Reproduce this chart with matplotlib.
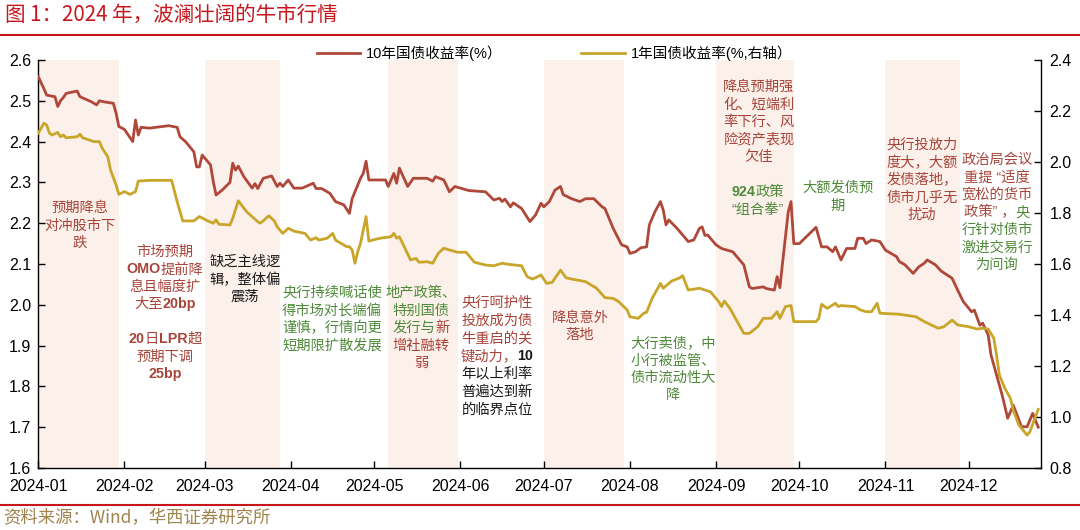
import matplotlib
matplotlib.use('Agg')
import matplotlib.pyplot as plt
import matplotlib.dates as mdates
from matplotlib.transforms import offset_copy
from matplotlib.lines import Line2D
import pandas as pd

plt.rcParams['font.family'] = ['Liberation Sans', 'Noto Sans CJK SC']

# 10年国债收益率(%) - 左轴
ten_dates = ['01-01', '01-03', '01-04', '01-07', '01-08', '01-09', '01-10', '01-11', '01-15', '01-16',
             '01-20', '01-22', '01-23', '01-25', '01-28', '01-29', '01-30', '02-01', '02-04', '02-05',
             '02-06', '02-07', '02-10', '02-17', '02-20', '02-21', '02-23', '02-26', '02-27', '02-28',
             '02-29', '03-03', '03-04', '03-05', '03-07', '03-10', '03-11', '03-12', '03-13', '03-15',
             '03-18', '03-19', '03-20', '03-22', '03-25', '03-27', '03-28', '03-29', '03-31', '04-02',
             '04-05', '04-09', '04-10', '04-12', '04-15', '04-17', '04-20', '04-22', '04-23', '04-24',
             '04-26', '04-27', '04-28', '04-29', '05-05', '05-06', '05-08', '05-09', '05-10', '05-13',
             '05-15', '05-20', '05-22', '05-23', '05-26', '05-28', '05-30', '06-04', '06-10', '06-13',
             '06-15', '06-16', '06-17', '06-19', '06-20', '06-23', '06-26', '06-28', '06-30', '07-01',
             '07-03', '07-05', '07-07', '07-08', '07-11', '07-14', '07-16', '07-19', '07-22', '07-23',
             '07-26', '07-29', '07-31', '08-01', '08-03', '08-05', '08-07', '08-08', '08-10', '08-12',
             '08-13', '08-14', '08-15', '08-18', '08-22', '08-24', '08-26', '08-27', '08-28', '08-29',
             '09-01', '09-03', '09-07', '09-09', '09-11', '09-13', '09-14', '09-18', '09-19', '09-22',
             '09-23', '09-24', '09-25', '09-27', '09-28', '09-29', '10-01', '10-07', '10-09', '10-11',
             '10-13', '10-14', '10-16', '10-18', '10-21', '10-22', '10-24', '10-25', '10-27', '10-30',
             '11-01', '11-04', '11-05', '11-06', '11-08', '11-11', '11-13', '11-15', '11-16', '11-19',
             '11-21', '11-25', '11-27', '11-29', '12-02', '12-03', '12-05', '12-06', '12-08', '12-09',
             '12-11', '12-13', '12-15', '12-17', '12-20', '12-22', '12-24', '12-26']
ten_vals = [2.559, 2.530, 2.514, 2.510, 2.486, 2.500, 2.508, 2.518, 2.524, 2.510,
            2.498, 2.490, 2.500, 2.497, 2.494, 2.470, 2.437, 2.430, 2.400, 2.453,
            2.416, 2.435, 2.433, 2.439, 2.435, 2.412, 2.400, 2.375, 2.338, 2.338,
            2.367, 2.343, 2.302, 2.269, 2.280, 2.300, 2.347, 2.330, 2.340, 2.314,
            2.286, 2.297, 2.285, 2.310, 2.316, 2.290, 2.298, 2.290, 2.306, 2.286,
            2.286, 2.298, 2.285, 2.285, 2.273, 2.253, 2.245, 2.224, 2.260, 2.277,
            2.310, 2.322, 2.352, 2.306, 2.306, 2.290, 2.322, 2.298, 2.335, 2.290,
            2.310, 2.310, 2.303, 2.314, 2.306, 2.277, 2.290, 2.280, 2.277, 2.257,
            2.261, 2.253, 2.259, 2.240, 2.250, 2.236, 2.204, 2.220, 2.249, 2.240,
            2.253, 2.281, 2.290, 2.270, 2.260, 2.253, 2.260, 2.260, 2.240, 2.236,
            2.187, 2.147, 2.142, 2.126, 2.130, 2.140, 2.142, 2.196, 2.228, 2.253,
            2.232, 2.196, 2.208, 2.187, 2.155, 2.159, 2.187, 2.191, 2.170, 2.171,
            2.147, 2.138, 2.130, 2.114, 2.098, 2.044, 2.040, 2.044, 2.040, 2.036,
            2.069, 2.042, 2.106, 2.228, 2.253, 2.150, 2.150, 2.190, 2.142, 2.142,
            2.130, 2.142, 2.110, 2.138, 2.138, 2.163, 2.163, 2.150, 2.159, 2.155,
            2.134, 2.122, 2.118, 2.106, 2.098, 2.077, 2.093, 2.102, 2.110, 2.098,
            2.083, 2.065, 2.036, 2.008, 1.983, 1.987, 1.950, 1.955, 1.926, 1.877,
            1.828, 1.779, 1.722, 1.754, 1.701, 1.701, 1.734, 1.700]

# 1年国债收益率(%) - 右轴
one_dates = ['01-01', '01-03', '01-04', '01-05', '01-06', '01-08', '01-09', '01-10', '01-11', '01-15',
             '01-16', '01-17', '01-21', '01-23', '01-24', '01-26', '01-27', '01-29', '01-30', '02-01',
             '02-03', '02-05', '02-06', '02-10', '02-18', '02-20', '02-22', '02-26', '02-28', '03-02',
             '03-04', '03-05', '03-06', '03-10', '03-11', '03-13', '03-16', '03-20', '03-21', '03-24',
             '03-26', '03-27', '03-29', '03-31', '04-02', '04-06', '04-08', '04-10', '04-11', '04-14',
             '04-16', '04-17', '04-21', '04-22', '04-23', '04-24', '04-25', '04-26', '04-28', '04-29',
             '05-03', '05-07', '05-08', '05-09', '05-10', '05-12', '05-14', '05-16', '05-17', '05-20',
             '05-22', '05-24', '05-26', '05-28', '05-31', '06-03', '06-06', '06-10', '06-13', '06-16',
             '06-18', '06-23', '06-25', '06-27', '06-28', '06-30', '07-02', '07-04', '07-07', '07-09',
             '07-11', '07-16', '07-20', '07-23', '07-26', '07-28', '07-31', '08-01', '08-04', '08-06',
             '08-07', '08-09', '08-12', '08-13', '08-16', '08-19', '08-20', '08-22', '08-26', '08-30',
             '09-02', '09-03', '09-04', '09-06', '09-08', '09-11', '09-13', '09-16', '09-18', '09-21',
             '09-23', '09-24', '09-26', '09-28', '09-29', '10-07', '10-08', '10-09', '10-11', '10-14',
             '10-15', '10-16', '10-21', '10-23', '10-25', '10-27', '10-29', '10-30', '11-06', '11-12',
             '11-15', '11-20', '11-22', '11-25', '11-27', '12-01', '12-04', '12-06', '12-08', '12-10',
             '12-11', '12-12', '12-14', '12-16', '12-17', '12-19', '12-21', '12-22', '12-23', '12-26']
one_vals = [2.113, 2.152, 2.145, 2.113, 2.106, 2.116, 2.099, 2.106, 2.095, 2.099,
            2.109, 2.095, 2.080, 2.080, 2.054, 2.021, 1.969, 1.910, 1.873, 1.884,
            1.873, 1.884, 1.925, 1.928, 1.928, 1.844, 1.769, 1.769, 1.786, 1.769,
            1.760, 1.773, 1.756, 1.753, 1.779, 1.848, 1.805, 1.766, 1.760, 1.789,
            1.769, 1.746, 1.720, 1.740, 1.729, 1.720, 1.694, 1.703, 1.694, 1.701,
            1.720, 1.694, 1.668, 1.668, 1.655, 1.603, 1.648, 1.681, 1.786, 1.690,
            1.701, 1.707, 1.720, 1.701, 1.707, 1.662, 1.616, 1.622, 1.607, 1.609,
            1.603, 1.642, 1.662, 1.655, 1.646, 1.646, 1.607, 1.596, 1.593, 1.603,
            1.599, 1.593, 1.550, 1.541, 1.546, 1.557, 1.524, 1.528, 1.576, 1.546,
            1.541, 1.531, 1.505, 1.468, 1.465, 1.452, 1.420, 1.393, 1.387, 1.407,
            1.411, 1.465, 1.524, 1.505, 1.533, 1.546, 1.554, 1.498, 1.505, 1.491,
            1.452, 1.433, 1.455, 1.426, 1.387, 1.328, 1.328, 1.354, 1.387, 1.387,
            1.413, 1.387, 1.433, 1.437, 1.374, 1.374, 1.387, 1.442, 1.426, 1.446,
            1.433, 1.437, 1.433, 1.420, 1.413, 1.413, 1.446, 1.407, 1.403, 1.393,
            1.374, 1.348, 1.354, 1.380, 1.361, 1.354, 1.345, 1.348, 1.345, 1.309,
            1.243, 1.165, 1.112, 1.073, 1.027, 0.969, 0.942, 0.929, 0.942, 1.030]

# 阴影区间
shade_start = ['01-01', '03-01', '05-06', '07-01', '09-01', '11-01']
shade_end = ['01-30', '03-28', '05-31', '07-30', '09-29', '11-28']

RED = '#b0483a'
YEL = '#c9a52a'
R, G, K = '#a8453a', '#4f8a3a', '#1a1a1a'


def to_dt(lst):
    return pd.to_datetime(['2024-' + s for s in lst])


W, H = 1080, 530
fig = plt.figure(figsize=(W / 100, H / 100), dpi=100)


def fx(px):
    return px / W


def fy(py):
    return 1 - py / H


ax = fig.add_axes([fx(38.3), fy(468), fx(1041) - fx(38.3), fy(60) - fy(468)])
ax2 = ax.twinx()

for a, b in zip(to_dt(shade_start), to_dt(shade_end)):
    ax.axvspan(a, b, color='#fcf0ea', lw=0, zorder=0)

l1, = ax.plot(to_dt(ten_dates), ten_vals, color=RED, lw=2.0, zorder=3)
l2, = ax2.plot(to_dt(one_dates), one_vals, color=YEL, lw=2.0, zorder=3)

ax.set_xlim(pd.Timestamp('2024-01-01'), pd.Timestamp('2024-12-27'))
ax.set_ylim(1.6, 2.6)
ax2.set_ylim(0.8, 2.4)
ax.set_yticks([1.6 + 0.1 * i for i in range(11)])
ax2.set_yticks([0.8 + 0.2 * i for i in range(9)])
ax.yaxis.set_major_formatter(plt.FormatStrFormatter('%.1f'))
ax2.yaxis.set_major_formatter(plt.FormatStrFormatter('%.1f'))
ax.xaxis.set_major_locator(mdates.MonthLocator())
ax.xaxis.set_major_formatter(mdates.DateFormatter('%Y-%m'))

ax.tick_params(axis='y', direction='in', length=5, width=1, labelsize=11.5, pad=5)
ax.tick_params(axis='x', direction='in', length=5, width=1, labelsize=11.5, pad=8)
ax2.tick_params(axis='y', direction='in', length=5, width=1, labelsize=11.5, pad=6)
for s in ['top', 'right']:
    ax.spines[s].set_visible(False)
for s in ['top', 'left', 'bottom']:
    ax2.spines[s].set_visible(False)
ax.spines['left'].set_linewidth(1)
ax.spines['bottom'].set_linewidth(1)
ax2.spines['right'].set_linewidth(1)
ax.set_facecolor('none')

fig.legend([l1, l2], ['10年国债收益率(%）', '1年国债收益率(%,右轴）'], loc='center',
           bbox_to_anchor=(fx(554.5), fy(53)), ncol=2, frameon=False, fontsize=10.5,
           handlelength=3.0, handletextpad=0.4, columnspacing=5.4)

# 标题与来源
fig.text(fx(5), fy(15), '图 1：2024 年，波澜壮阔的牛市行情', color='#c8161d', fontsize=14.8,
         va='center', ha='left', family=['Noto Sans CJK SC'])
fig.add_artist(Line2D([0, 1], [fy(35), fy(35)], transform=fig.transFigure, color='#c8161d', lw=1.5))
fig.add_artist(Line2D([0, 1], [fy(505), fy(505)], transform=fig.transFigure, color='#c8161d', lw=1.5))
fig.text(fx(3), fy(518), '资料来源：Wind，华西证券研究所', color='#a0824c', fontsize=12.5,
         va='center', ha='left', family=['Noto Sans CJK SC'])

renderer = fig.canvas.get_renderer()


def note(cx, top, lines, step=17.5, size=10.3):
    for i, segs in enumerate(lines):
        y = fy(top + i * step)
        texts = []
        for seg in segs:
            bold = len(seg) > 2
            t = fig.text(fx(cx), y, seg[0], color=seg[1], fontsize=size, va='center', ha='left',
                         fontweight='bold' if bold else 'normal')
            texts.append(t)
        widths = [t.get_window_extent(renderer).width for t in texts]
        off = -sum(widths) / 2
        for t, w in zip(texts, widths):
            t.set_transform(offset_copy(fig.transFigure, fig, x=off, y=0, units='dots'))
            off += w


def plain(lines, c):
    return [[(s, c)] for s in lines]


note(80, 208, plain(['预期降息', '对冲股市下', '跌'], R))
note(165, 252, [[('市场预期', R)], [('OMO', R, 1), ('提前降', R)], [('息且幅度扩', R)],
                [('大至', R), ('20bp', R, 1)], [],
                [('20', R, 1), ('日', R), ('LPR', R, 1), ('超', R)], [('预期下调', R)], [('25bp', R, 1)]],
     step=17.4)
note(245, 262, plain(['缺乏主线逻', '辑，整体偏', '震荡'], K))
note(332, 293, plain(['央行持续喊话使', '得市场对长端偏', '谨慎，行情向更', '短期限扩散发展'], G))
note(421, 293, [[('地产政策、', G)], [('特别国债', G)], [('发行与', G), ('新', R)],
                [('增社融转', R)], [('弱', R)]])
note(497, 303, [[('央行呵护性', R)], [('投放成为债', R)], [('牛重启的关', R)],
                [('键动力，', R), ('10', K, 1)], [('年以上利率', K)], [('普遍达到新', K)],
                [('的临界点位', K)]], step=17.8)
note(580, 318, plain(['降息意外', '落地'], R))
note(673, 343, plain(['大行卖债，中', '小行被监管、', '债市流动性大', '降'], G))
note(759, 87, plain(['降息预期强', '化、短端利', '率下行、风', '险资产表现', '欠佳'], R))
note(758, 192, [[('924', G, 1), ('政策', G)], [('“组合拳”', G)]])
note(838, 188, plain(['大额发债预', '期'], G))
note(922, 145, plain(['央行投放力', '度大，大额', '发债落地，', '债市几乎无', '扰动'], R))
note(997, 160, [[('政治局会议', R)], [('重提 “适度', R)], [('宽松的货币', R)],
                [('政策” ，', R), ('央', G)], [('行针对债市', G)], [('激进交易行', G)],
                [('为问询', G)]])

fig.savefig('out.png', dpi=100)
